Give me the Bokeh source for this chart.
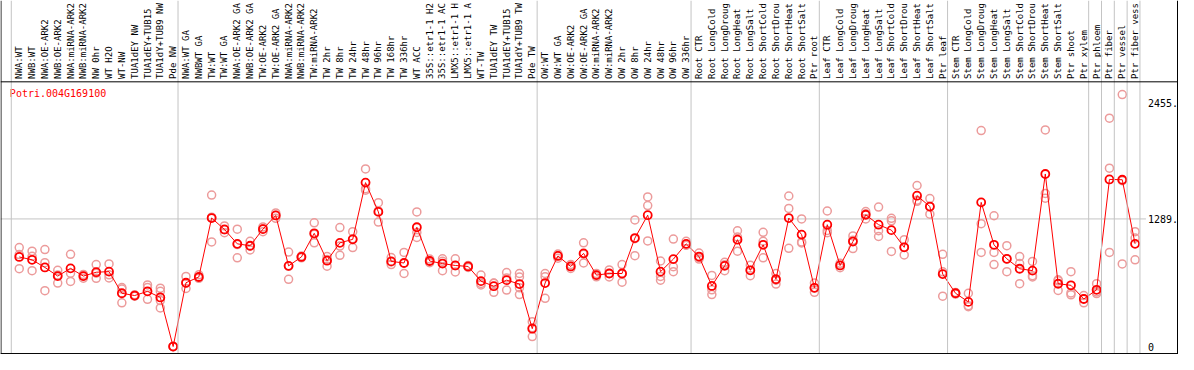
import math
from bokeh.plotting import figure
from bokeh.models import Range1d, Span, ColumnDataSource
from bokeh.core.properties import value
from bokeh.embed import file_html
from bokeh.resources import INLINE

# ---------------- data ----------------
title = "Potri.004G169100"

# category labels as they are shown (clipped to 14 characters in the reference)
categories = [
    "NWA:WT", "NWB:WT", "NWA:OE-ARK2", "NWB:OE-ARK2", "NWA:miRNA-ARK2", "NWB:miRNA-ARK2",
    "NW 0hr", "WT H2O", "WT-NW", "TUA1dEY NW", "TUA1dEY+TUB15", "TUA1dY+TUB9 NW", "Pde NW",
    "NWA:WT GA", "NWBWT GA", "TW:WT", "TW:WT GA", "NWA:OE-ARK2 GA", "NWB:OE-ARK2 GA",
    "TW:OE-ARK2", "TW:OE-ARK2 GA", "NWA:miRNA-ARK2", "NWB:miRNA-ARK2", "TW:miRNA-ARK2",
    "TW 2hr", "TW 8hr", "TW 24hr", "TW 48hr", "TW 96hr", "TW 168hr", "TW 336hr", "WT ACC",
    "35S::etr1-1 H2", "35S::etr1-1 AC", "LMX5::etr1-1 H", "LMX5::etr1-1 A", "WT-TW",
    "TUA1dEY TW", "TUA1dEY+TUB15", "TUA1dY+TUB9 TW", "Pde TW",
    "OW:WT", "OW:WT GA", "OW:OE-ARK2", "OW:OE-ARK2 GA", "OW:miRNA-ARK2", "OW:miRNA-ARK2",
    "OW 2hr", "OW 8hr", "OW 24hr", "OW 48hr", "OW 96hr", "OW 336hr",
    "Root CTR", "Root LongCold", "Root LongDroug", "Root LongHeat", "Root LongSalt",
    "Root ShortCold", "Root ShortDrou", "Root ShortHeat", "Root ShortSalt", "Ptr root",
    "Leaf CTR", "Leaf LongCold", "Leaf LongDroug", "Leaf LongHeat", "Leaf LongSalt",
    "Leaf ShortCold", "Leaf ShortDrou", "Leaf ShortHeat", "Leaf ShortSalt", "Ptr leaf",
    "Stem CTR", "Stem LongCold", "Stem LongDroug", "Stem LongHeat", "Stem LongSalt",
    "Stem ShortCold", "Stem ShortDrou", "Stem ShortHeat", "Stem ShortSalt", "Ptr shoot",
    "Ptr xylem", "Ptr phloem", "Ptr fiber", "Ptr vessel", "Ptr fiber vess",
]

# group boundaries: separator drawn after these category numbers
group_ends = [0, 13, 41, 53, 63, 73, 84, 85, 86, 87, 88]

means = [
    906, 877, 800, 713, 791, 713, 752, 758, 540, 517, 559, 498, 3,
    646, 704, 1298, 1183, 1038, 1019, 1186, 1324, 816, 906, 1144, 868, 1048, 1083, 1655,
    1360, 861, 845, 1205, 865, 839, 820, 810, 662, 611, 672, 633, 183,
    643, 916, 810, 942, 723, 739, 739, 1096, 1327, 758, 884, 1038,
    910, 614, 816, 1080, 771, 1028, 681, 1298, 1131, 595,
    1231, 820, 1061, 1331, 1231, 1176, 1003, 1523, 1414, 733,
    540, 453, 1456, 1028, 887, 787, 768, 1742, 636, 620, 482,
    575, 1687, 1684, 1038,
]

rep_a = [
    1000, 964, 980, 771, 932, 730, 829, 836, 598, 525, 624, 591, 6,
    710, 726, 1530, 1218, 1186, 1064, 1208, 1350, 955, 915, 1250, 910, 1202, 1160, 1793,
    1453, 900, 951, 1360, 884, 887, 887, 820, 723, 643, 749, 739, 254,
    739, 935, 830, 1048, 740, 775, 829, 1279, 1511, 865, 1086, 1064,
    945, 720, 852, 1170, 823, 1154, 739, 1520, 1289, 643,
    1369, 842, 1118, 1363, 1408, 1295, 1080, 1626, 1494, 932,
    548, 540, 2179, 1321, 1019, 910, 861, 2186, 675, 758, 517,
    636, 2304, 2542, 1160,
]
rep_b = [
    930, 913, 848, 725, 742, 712, 742, 726, 582, 517, 598, 559, 3,
    640, 700, 1307, 1180, 1031, 1016, 1190, 1327, 812, 906, 1134, 881, 1016, 1089, 1594,
    1370, 855, 846, 1153, 865, 862, 818, 810, 639, 640, 695, 704, 192,
    707, 920, 810, 933, 723, 739, 736, 1090, 1424, 710, 807, 1025,
    900, 575, 828, 1106, 773, 1064, 671, 1395, 1057, 592,
    1173, 820, 1075, 1341, 1170, 1270, 1003, 1478, 1411, 756,
    540, 415, 1241, 951, 884, 839, 717, 1546, 665, 543, 485,
    553, 1800, 1674, 1096,
]
rep_c = [
    788, 768, 566, 643, 659, 692, 691, 694, 444, 510, 479, 466, 1,
    588, 690, 1057, 1151, 897, 977, 1160, 1295, 681, 897, 1048, 813, 922, 1000, 1578,
    1257, 829, 739, 1102, 848, 768, 755, 800, 624, 550, 572, 595, 103,
    489, 893, 790, 845, 706, 704, 652, 919, 1067, 672, 758, 1025,
    884, 527, 768, 964, 717, 897, 633, 993, 1047, 550,
    1151, 798, 990, 1289, 1112, 961, 926, 1466, 1337, 511,
    532, 404, 951, 829, 758, 636, 704, 1498, 569, 524, 444,
    537, 951, 836, 877,
]
# fourth replicate (only some samples)
rep_d_category = [12, 40]
rep_d = [392, 527]

y_ticks = [0, 1289, 2455]
y_tick_labels = ["0", "1289.", "2455."]

# ---------------- layout helpers (reference pixel -> data units) ----------------
W, H = 1178, 354
K = 0.10372


def xi(X):
    return 1 + (X - 19) / 13.0


def yv(Y):
    return (362 - Y) / K


MAIN = "#ff0000"
REP = "#ec9b9b"
GRID = "#c4c4c4"
FONT = value("DejaVu Sans Mono")

p = figure(width=W, height=H, x_range=Range1d(xi(0), xi(1194)), y_range=Range1d(yv(370), yv(0)),
           output_backend="svg", toolbar_location=None, min_border=0,
           x_axis_location=None, y_axis_location=None)
p.grid.visible = False
p.outline_line_color = None
p.background_fill_color = "white"
p.border_fill_color = "white"

n = len(categories)
xs = list(range(1, n + 1))

# separators
for g in group_ends:
    p.add_layout(Span(location=g + 0.38, dimension="height", line_color=GRID, line_width=1))

# grid line at middle tick
p.segment(x0=[xi(0)], y0=[y_ticks[1]], x1=[xi(1161)], y1=[y_ticks[1]], line_color=GRID, line_width=1)

# frame lines
p.add_layout(Span(location=xi(0.5), dimension="height", line_color="black", line_width=1))
p.add_layout(Span(location=xi(1193), dimension="height", line_color="black", line_width=1))
p.add_layout(Span(location=yv(85), dimension="width", line_color="black", line_width=1))
p.add_layout(Span(location=yv(369), dimension="width", line_color="black", line_width=1))

# category labels (rotated)
lab_src = ColumnDataSource(dict(x=xs, y=[yv(82)] * n, text=categories))
p.text(x="x", y="y", text="text", source=lab_src, angle=math.pi / 2, text_align="left",
       text_baseline="middle", text_font=FONT, text_font_size="9px", text_color="black")

# y tick labels
p.text(x=[xi(1163)] * len(y_ticks), y=y_ticks, text=y_tick_labels, text_align="left",
       text_baseline="middle", text_font=FONT, text_font_size="10px", text_color="black")

# title
p.text(x=[xi(9.5)], y=[yv(97.5)], text=[title], text_align="left", text_baseline="middle",
       text_font=FONT, text_font_size="10px", text_color=MAIN)

# replicates
rx = xs * 3 + rep_d_category
ry = rep_a + rep_b + rep_c + rep_d
p.scatter(rx, ry, marker="circle", size=8, line_color=REP, line_width=1.5, fill_color=None)

# mean line + markers
p.line(xs, means, line_color=MAIN, line_width=1)
p.scatter(xs, means, marker="circle", size=8, line_color=MAIN, line_width=1.8, fill_color=None)

open("out.html", "w").write(file_html(p, INLINE))
